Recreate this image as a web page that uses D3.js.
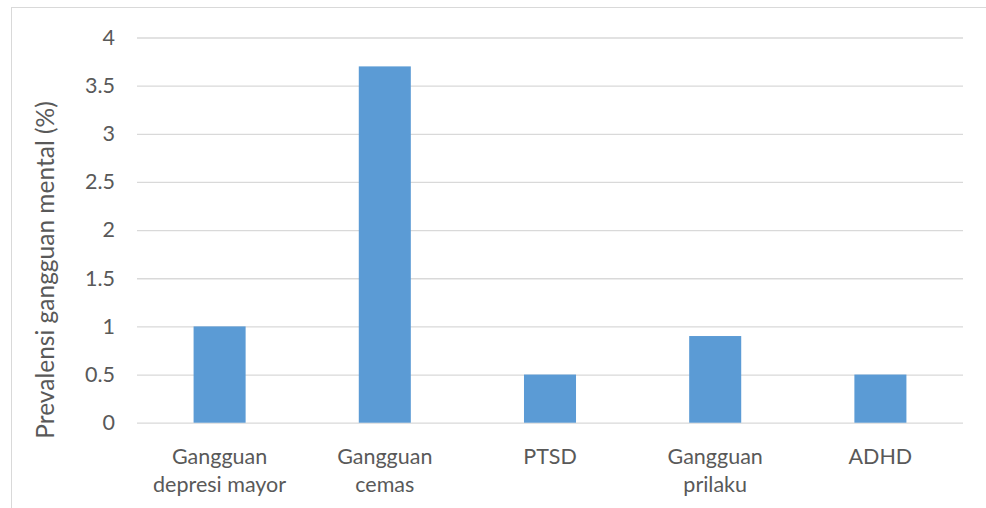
<!DOCTYPE html>
<html><head><meta charset="utf-8">
<script src="https://cdn.jsdelivr.net/npm/d3@7"></script>
<style>body{margin:0;background:#fff}svg{display:block}</style>
</head><body>
<svg id="c" width="986" height="508"></svg>
<script>
const categories = [["Gangguan","depresi mayor"],["Gangguan","cemas"],["PTSD"],["Gangguan","prilaku"],["ADHD"]];
const values = [1, 3.7, 0.5, 0.9, 0.5];
const yTicks = [0, 0.5, 1, 1.5, 2, 2.5, 3, 3.5, 4];
const yTitle = "Prevalensi gangguan mental (%)";

(function(){
const svg = d3.select("#c");
const font = "Lato, 'Open Sans', sans-serif";
const textColor = "#595959";
svg.append("rect").attr("x",11.5).attr("y",7.5).attr("width",1000).attr("height",600)
  .attr("fill","#fff").attr("stroke","#d9d9d9").attr("stroke-width",1);

const pl = 137, pr = 963, pt = 37.5, pb = 422.7;
const x = d3.scaleBand().domain(d3.range(categories.length)).range([pl,pr]).paddingInner(0.685).paddingOuter(0.3425);
const y = d3.scaleLinear().domain([0,4]).range([pb, pt]);

const yAxis = d3.axisLeft(y).tickValues(yTicks).tickSize(-(pr-pl)).tickFormat(d3.format("")).tickPadding(22);
const gy = svg.append("g").attr("transform",`translate(${pl},0)`).call(yAxis);
gy.select(".domain").remove();
gy.selectAll(".tick line").attr("stroke","#d9d9d9").attr("stroke-width",1.3);
gy.selectAll(".tick text").attr("fill",textColor).style("font-family",font).style("font-size","21.5px");

svg.append("g").selectAll("rect").data(values).join("rect")
  .attr("x",(d,i)=>x(i)).attr("width",x.bandwidth())
  .attr("y",d=>y(d)).attr("height",d=>pb-y(d)).attr("fill","#5b9bd5");

const xl = svg.append("g");
categories.forEach((lines,i)=>{
  const t = xl.append("text").attr("text-anchor","middle").attr("fill",textColor)
    .style("font-family",font).style("font-size","21.5px");
  lines.forEach((l,j)=>t.append("tspan").attr("x",x(i)+x.bandwidth()/2).attr("y",463.5+j*28.5).text(l));
});

svg.append("text").attr("transform",`translate(53.5,270) rotate(-90)`)
  .attr("text-anchor","middle").attr("fill",textColor)
  .style("font-family",font).style("font-size","24.5px").text(yTitle);
})();
</script>
</body></html>
